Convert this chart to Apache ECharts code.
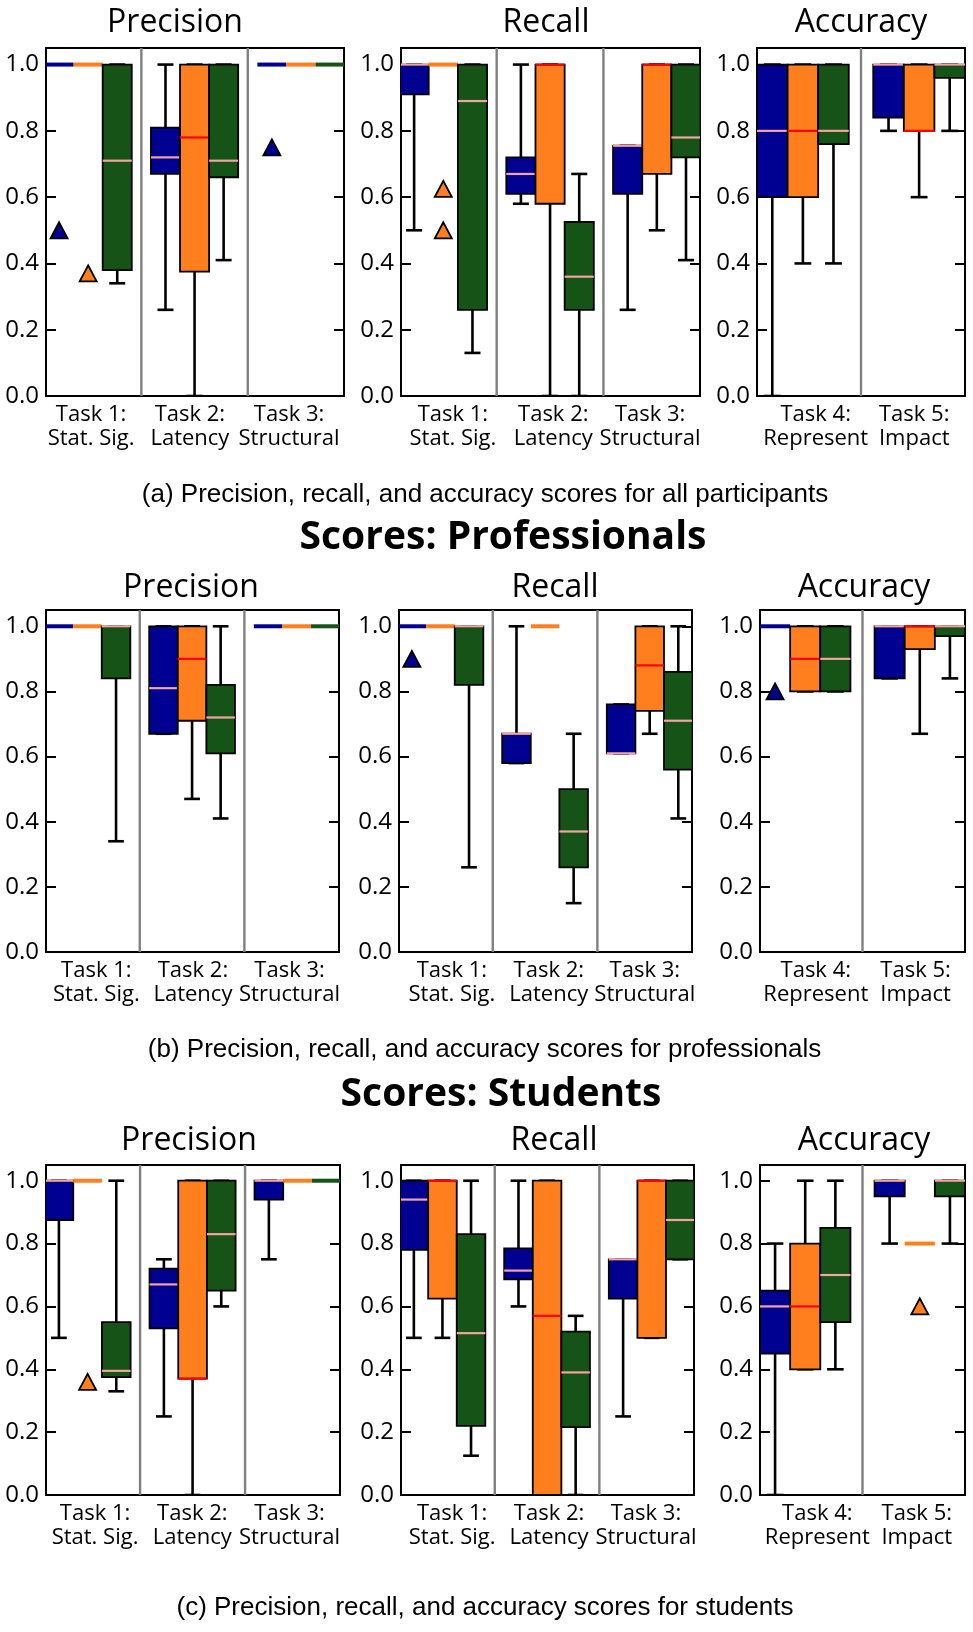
<!DOCTYPE html>
<html><head><meta charset="utf-8">
<script src="https://cdn.jsdelivr.net/npm/echarts@6/dist/echarts.min.js"></script>
<style>html,body{margin:0;padding:0;background:#fff}#c{width:973px;height:1632px}</style>
</head><body><div id="c"></div>
<script>
// ---------- DATA: each box = [whiskerLow, Q1, median, Q3, whiskerHigh]; order per task: blue, orange, green
const tasksPR = [["Task 1:", "Stat. Sig."], ["Task 2:", "Latency"], ["Task 3:", "Structural"]];
const tasksAcc = [["Task 4:", "Represent"], ["Task 5:", "Impact"]];
const yTicks = ["0.0", "0.2", "0.4", "0.6", "0.8", "1.0"];

const allPrecision = [
  [1, 1, 1, 1, 1], [1, 1, 1, 1, 1], [0.34, 0.38, 0.71, 1, 1],
  [0.26, 0.67, 0.72, 0.81, 1], [0, 0.375, 0.78, 1, 1], [0.41, 0.66, 0.71, 1, 1],
  [1, 1, 1, 1, 1], [1, 1, 1, 1, 1], [1, 1, 1, 1, 1]
];
const allPrecisionOutliers = [[0, 0.5], [1, 0.37], [6, 0.75]];
const allRecall = [
  [0.5, 0.91, 1, 1, 1], [1, 1, 1, 1, 1], [0.13, 0.26, 0.89, 1, 1],
  [0.58, 0.61, 0.67, 0.72, 1], [0, 0.58, 1, 1, 1], [0, 0.26, 0.36, 0.525, 0.67],
  [0.26, 0.61, 0.755, 0.755, 0.755], [0.5, 0.67, 1, 1, 1], [0.41, 0.72, 0.78, 1, 1]
];
const allRecallOutliers = [[1, 0.625], [1, 0.5]];
const allAccuracy = [
  [0, 0.6, 0.8, 1, 1], [0.4, 0.6, 0.8, 1, 1], [0.4, 0.76, 0.8, 1, 1],
  [0.8, 0.84, 1, 1, 1], [0.6, 0.8, 0.8, 1, 1], [0.8, 0.96, 1, 1, 1]
];
const allAccuracyOutliers = [];

const proPrecision = [
  [1, 1, 1, 1, 1], [1, 1, 1, 1, 1], [0.34, 0.84, 1, 1, 1],
  [0.67, 0.67, 0.81, 1, 1], [0.47, 0.71, 0.9, 1, 1], [0.41, 0.61, 0.72, 0.82, 1],
  [1, 1, 1, 1, 1], [1, 1, 1, 1, 1], [1, 1, 1, 1, 1]
];
const proPrecisionOutliers = [];
const proRecall = [
  [1, 1, 1, 1, 1], [1, 1, 1, 1, 1], [0.26, 0.82, 1, 1, 1],
  [0.58, 0.58, 0.67, 0.67, 1], [1, 1, 1, 1, 1], [0.15, 0.26, 0.37, 0.5, 0.67],
  [0.61, 0.61, 0.61, 0.76, 0.76], [0.67, 0.74, 0.88, 1, 1], [0.41, 0.56, 0.71, 0.86, 1]
];
const proRecallOutliers = [[0, 0.9]];
const proAccuracy = [
  [1, 1, 1, 1, 1], [0.8, 0.8, 0.9, 1, 1], [0.8, 0.8, 0.9, 1, 1],
  [0.84, 0.84, 1, 1, 1], [0.67, 0.93, 1, 1, 1], [0.84, 0.97, 1, 1, 1]
];
const proAccuracyOutliers = [[0, 0.8]];

const stuPrecision = [
  [0.5, 0.875, 1, 1, 1], [1, 1, 1, 1, 1], [0.33, 0.375, 0.395, 0.55, 1],
  [0.25, 0.53, 0.67, 0.72, 0.75], [0, 0.37, 0.37, 1, 1], [0.6, 0.65, 0.83, 1, 1],
  [0.75, 0.94, 1, 1, 1], [1, 1, 1, 1, 1], [1, 1, 1, 1, 1]
];
const stuPrecisionOutliers = [[1, 0.36]];
const stuRecall = [
  [0.5, 0.78, 0.94, 1, 1], [0.5, 0.625, 1, 1, 1], [0.125, 0.22, 0.515, 0.83, 1],
  [0.6, 0.686, 0.714, 0.785, 1], [0, 0, 0.57, 1, 1], [0, 0.216, 0.39, 0.52, 0.57],
  [0.25, 0.625, 0.75, 0.75, 0.75], [0.5, 0.5, 1, 1, 1], [0.75, 0.75, 0.875, 1, 1]
];
const stuRecallOutliers = [];
const stuAccuracy = [
  [0, 0.45, 0.6, 0.65, 0.8], [0.4, 0.4, 0.6, 0.8, 1], [0.4, 0.55, 0.7, 0.85, 1],
  [0.8, 0.95, 1, 1, 1], [0.8, 0.8, 0.8, 0.8, 0.8], [0.8, 0.95, 1, 1, 1]
];
const stuAccuracyOutliers = [[4, 0.6]];

// ---------- LAYOUT / STYLE
const COLORS = ['#000091', '#FF7F1E', '#165317'];
const MEDIAN = ['#F4A3A3', '#FF0000', '#F4A3A3'];
const FONT = '"Open Sans", "Noto Sans", sans-serif';
const FW = '500 ';
const PR = { centers: [0.45, 1.45, 2.45, 4.11, 5.11, 6.11, 7.77, 8.77, 9.77], max: 10.25, dividers: [3.28, 6.94] };
const ACC = { centers: [0.5, 1.5, 2.5, 4.3, 5.3, 6.3], max: 6.8, dividers: [3.4] };

const panels = [
  { boxes: allPrecision, out: allPrecisionOutliers, kind: PR, tasks: tasksPR, grid: [46, 48, 298, 348], lab: [1.55, 4.95, 8.36] },
  { boxes: allRecall, out: allRecallOutliers, kind: PR, tasks: tasksPR, grid: [401, 48, 299, 348], lab: [1.78, 5.22, 8.54] },
  { boxes: allAccuracy, out: allAccuracyOutliers, kind: ACC, tasks: tasksAcc, grid: [757, 48, 208, 348], lab: [1.92, 5.14] },
  { boxes: proPrecision, out: proPrecisionOutliers, kind: PR, tasks: tasksPR, grid: [46, 610, 293, 342], lab: [1.76, 5.14, 8.52] },
  { boxes: proRecall, out: proRecallOutliers, kind: PR, tasks: tasksPR, grid: [399, 610, 293, 342], lab: [1.85, 5.24, 8.6] },
  { boxes: proAccuracy, out: proAccuracyOutliers, kind: ACC, tasks: tasksAcc, grid: [760, 610, 205, 342], lab: [1.85, 5.16] },
  { boxes: stuPrecision, out: stuPrecisionOutliers, kind: PR, tasks: tasksPR, grid: [46, 1165, 294, 330], lab: [1.71, 5.1, 8.49] },
  { boxes: stuRecall, out: stuRecallOutliers, kind: PR, tasks: tasksPR, grid: [401, 1165, 293, 330], lab: [1.79, 5.18, 8.57] },
  { boxes: stuAccuracy, out: stuAccuracyOutliers, kind: ACC, tasks: tasksAcc, grid: [760, 1165, 205, 330], lab: [1.9, 5.2] }
];

const panelTitles = [
  ['Precision', 175, 22.5], ['Recall', 546, 22.5], ['Accuracy', 861, 22.5],
  ['Precision', 191, 588], ['Recall', 555, 588], ['Accuracy', 864, 588],
  ['Precision', 189, 1141], ['Recall', 554, 1141], ['Accuracy', 864, 1141]
];
const captions = [
  ['(a) Precision, recall, and accuracy scores for all participants', 485, 495],
  ['(b) Precision, recall, and accuracy scores for professionals', 484.5, 1050],
  ['(c) Precision, recall, and accuracy scores for students', 485, 1608]
];
const sectionTitles = [['Scores: Professionals', 503, 538], ['Scores: Students', 501, 1095]];

function renderBox(params, api) {
  const x = api.value(0), lo = api.value(1), q1 = api.value(2), md = api.value(3), q3 = api.value(4), hi = api.value(5), ci = api.value(6);
  const w = api.size([1, 0])[0];
  const cx = api.coord([x, 0])[0];
  const Y = v => api.coord([x, v])[1];
  const col = COLORS[ci];
  const ch = [];
  if (q1 === q3) {
    ch.push({ type: 'rect', shape: { x: cx - w / 2, y: Y(q1) - 2, width: w, height: 4 }, style: { fill: col } });
    return { type: 'group', children: ch };
  }
  const cap = w * 0.55;
  const blk = { stroke: '#000', lineWidth: 2.6 };
  ch.push({ type: 'line', shape: { x1: cx, y1: Y(lo), x2: cx, y2: Y(q1) }, style: blk });
  ch.push({ type: 'line', shape: { x1: cx, y1: Y(q3), x2: cx, y2: Y(hi) }, style: blk });
  ch.push({ type: 'line', shape: { x1: cx - cap / 2, y1: Y(lo), x2: cx + cap / 2, y2: Y(lo) }, style: blk });
  ch.push({ type: 'line', shape: { x1: cx - cap / 2, y1: Y(hi), x2: cx + cap / 2, y2: Y(hi) }, style: blk });
  ch.push({ type: 'rect', shape: { x: cx - w / 2, y: Y(q3), width: w, height: Y(q1) - Y(q3) }, style: { fill: col, stroke: '#000', lineWidth: 1.8 } });
  ch.push({ type: 'line', shape: { x1: cx - w / 2, y1: Y(md), x2: cx + w / 2, y2: Y(md) }, style: { stroke: MEDIAN[ci], lineWidth: 2.2 } });
  return { type: 'group', children: ch };
}

const grid = [], xAxis = [], yAxis = [], series = [];
panels.forEach((p, i) => {
  grid.push({ left: p.grid[0], top: p.grid[1], width: p.grid[2], height: p.grid[3], show: true, borderColor: '#000', borderWidth: 2, backgroundColor: 'transparent' });
  xAxis.push({ type: 'value', gridIndex: i, min: 0, max: p.kind.max, show: false, splitLine: { show: false } });
  const yBase = {
    type: 'value', gridIndex: i, min: 0, max: 1.05, interval: 0.2,
    splitLine: { show: false }, axisLine: { show: false },
    axisTick: { show: true, inside: true, length: 10, lineStyle: { color: '#000', width: 2 } }
  };
  yAxis.push(Object.assign({}, yBase, {
    position: 'left',
    axisLabel: {
      show: true, margin: 7, color: '#000', fontSize: 24, fontWeight: 500, fontFamily: FONT,
      formatter: v => { const k = Math.round(v / 0.2); return Math.abs(v - k * 0.2) < 1e-6 ? yTicks[k] : ''; }
    }
  }));
  yAxis.push(Object.assign({}, yBase, { position: 'right', axisLabel: { show: false } }));
  const yi = 2 * i;
  series.push({
    type: 'custom', xAxisIndex: i, yAxisIndex: yi, silent: true,
    data: p.kind.dividers.map(d => [d, 0]),
    renderItem: (params, api) => {
      const a = api.coord([api.value(0), 0]), b = api.coord([api.value(0), 1.05]);
      return { type: 'line', shape: { x1: a[0], y1: a[1], x2: b[0], y2: b[1] }, style: { stroke: '#808080', lineWidth: 2.4 } };
    }
  });
  series.push({
    type: 'custom', xAxisIndex: i, yAxisIndex: yi, silent: true, clip: true,
    data: p.boxes.map((b, k) => [p.kind.centers[k], b[0], b[1], b[2], b[3], b[4], k % 3]),
    renderItem: renderBox
  });
  series.push({
    type: 'scatter', xAxisIndex: i, yAxisIndex: yi, silent: true, symbol: 'triangle', symbolSize: [17, 16], z: 5,
    data: p.out.map(o => ({ value: [p.kind.centers[o[0]], o[1]], itemStyle: { color: COLORS[o[0] % 3], opacity: 1, borderColor: '#000', borderWidth: 1.8 } }))
  });
  const tasks = p.tasks;
  series.push({
    type: 'custom', xAxisIndex: i, yAxisIndex: yi, silent: true, clip: false,
    data: p.lab.map(x => [x, 0]),
    renderItem: (params, api) => {
      const c = api.coord([api.value(0), 0]);
      const t = tasks[params.dataIndex];
      return { type: 'text', x: c[0], y: c[1] + 7, style: { text: t[0] + '\n' + t[1], fill: '#000', font: FW + '22px ' + FONT, align: 'center', textAlign: 'center', verticalAlign: 'top', textVerticalAlign: 'top', lineHeight: 24 } };
    }
  });
});

const graphic = [];
panelTitles.forEach(t => graphic.push({ type: 'text', x: t[1], y: t[2], style: { text: t[0], fill: '#000', font: FW + '32px ' + FONT, align: 'center', textAlign: 'center', verticalAlign: 'middle', textVerticalAlign: 'middle' } }));
captions.forEach(t => graphic.push({ type: 'text', x: t[1], y: t[2], style: { text: t[0], fill: '#000', font: '26px "Liberation Sans", Arial, sans-serif', align: 'center', textAlign: 'center', verticalAlign: 'middle', textVerticalAlign: 'middle' } }));
sectionTitles.forEach(t => graphic.push({ type: 'text', x: t[1], y: t[2], style: { text: t[0], fill: '#000', font: 'bold 39px ' + FONT, align: 'center', textAlign: 'center', verticalAlign: 'middle', textVerticalAlign: 'middle' } }));

const chart = echarts.init(document.getElementById('c'), null, { width: 973, height: 1632 });
chart.setOption({ animation: false, backgroundColor: '#fff', grid, xAxis, yAxis, series, graphic });
</script></body></html>
